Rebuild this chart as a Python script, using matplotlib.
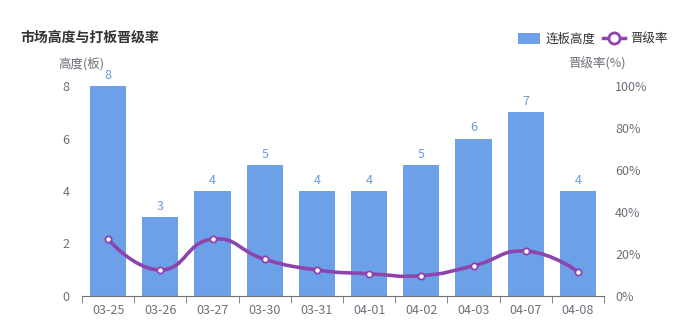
import numpy as np
import matplotlib
matplotlib.use('Agg')
import matplotlib.pyplot as plt
from matplotlib.path import Path
from matplotlib.patches import PathPatch, Patch
from matplotlib.lines import Line2D

# données
dates = ['03-25', '03-26', '03-27', '03-30', '03-31', '04-01', '04-02', '04-03', '04-07', '04-08']
hauteur = [8, 3, 4, 5, 4, 4, 5, 6, 7, 4]
taux = [27.1, 12.4, 27.1, 17.5, 12.4, 10.6, 9.7, 14.4, 21.4, 11.6]
ticks_gauche = [0, 2, 4, 6, 8]
ticks_droite = [0, 20, 40, 60, 80, 100]

plt.rcParams['font.family'] = ['Noto Sans CJK SC', 'DejaVu Sans']

bleu = '#6ca0e8'
violet = '#8e44ad'
gris = '#6e7079'

fig = plt.figure(figsize=(6.79, 3.26), dpi=100)
ax = fig.add_axes([82 / 679, 30 / 326, 522 / 679, 210 / 326])
ax2 = ax.twinx()

x = np.arange(len(dates))
barres = ax.bar(x, hauteur, width=0.69, color=bleu, zorder=2)
ax.bar_label(barres, padding=3, color='#6a9be0', fontsize=9)

ax.set_xlim(-0.5, len(dates) - 0.5)
ax.set_ylim(0, 8)
ax2.set_ylim(0, 100)
ax.set_yticks(ticks_gauche)
ax2.set_yticks(ticks_droite)
ax2.set_yticklabels([f'{v}%' for v in ticks_droite])

ax.set_xticks(x)
ax.set_xticklabels(dates)
ax.set_xticks(np.arange(-0.5, len(dates)), minor=True)
ax.tick_params(axis='x', which='major', length=0, pad=6, labelsize=9, labelcolor=gris)
ax.tick_params(axis='x', which='minor', length=5, color=gris)
ax.tick_params(axis='y', length=0, pad=9, labelsize=9, labelcolor=gris)
ax2.tick_params(axis='y', length=0, pad=8, labelsize=9, labelcolor=gris)

for a in (ax, ax2):
    for s in ('top', 'left', 'right'):
        a.spines[s].set_visible(False)
    a.spines['bottom'].set_color(gris)
ax2.spines['bottom'].set_visible(False)

# courbe lissée (bezier, calculée en coordonnées écran)
fig.canvas.draw()
pts = ax2.transData.transform(np.column_stack([x, taux]))
lissage = 0.5
verts = [pts[0]]
codes = [Path.MOVETO]
n = len(pts)
cps = []
for i in range(n):
    if i == 0 or i == n - 1:
        cps.append((pts[i], pts[i]))
        continue
    v = pts[i + 1] - pts[i - 1]
    d0 = np.linalg.norm(pts[i] - pts[i - 1])
    d1 = np.linalg.norm(pts[i + 1] - pts[i])
    r = d1 / (d0 + d1)
    cps.append((pts[i] - v * lissage * (1 - r), pts[i] + v * lissage * r))
for i in range(1, n):
    verts += [cps[i - 1][1], cps[i][0], pts[i]]
    codes += [Path.CURVE4] * 3
verts = ax2.transData.inverted().transform(np.array(verts))
ax2.add_patch(PathPatch(Path(verts, codes), facecolor='none', edgecolor=violet, lw=2.6, zorder=3))
ax2.plot(x, taux, linestyle='none', marker='o', markersize=4.5, markerfacecolor='white',
         markeredgecolor=violet, markeredgewidth=1.3, zorder=4)

# titres
fig.text(20 / 679, 1 - 38 / 326, '市场高度与打板晋级率', fontsize=10, fontweight='bold',
         color='#333333', va='center', ha='left')
fig.text(81 / 679, 1 - 64 / 326, '高度(板)', fontsize=9, color=gris, ha='center', va='center')
fig.text(597 / 679, 1 - 64 / 326, '晋级率(%)', fontsize=9, color=gris, ha='center', va='center')

# légende
poignees = [Patch(facecolor=bleu, edgecolor='none'),
            Line2D([0], [0], color=violet, lw=2.5, marker='o', markersize=8,
                   markerfacecolor='white', markeredgecolor=violet, markeredgewidth=2)]
fig.legend(poignees, ['连板高度', '晋级率'], loc='center right', bbox_to_anchor=(1.0, 1 - 39 / 326),
           ncol=2, frameon=False, fontsize=9, handlelength=1.8, handleheight=1.0,
           columnspacing=0.6, handletextpad=0.4, labelcolor='#333333')

plt.savefig('out.png', dpi=100)
